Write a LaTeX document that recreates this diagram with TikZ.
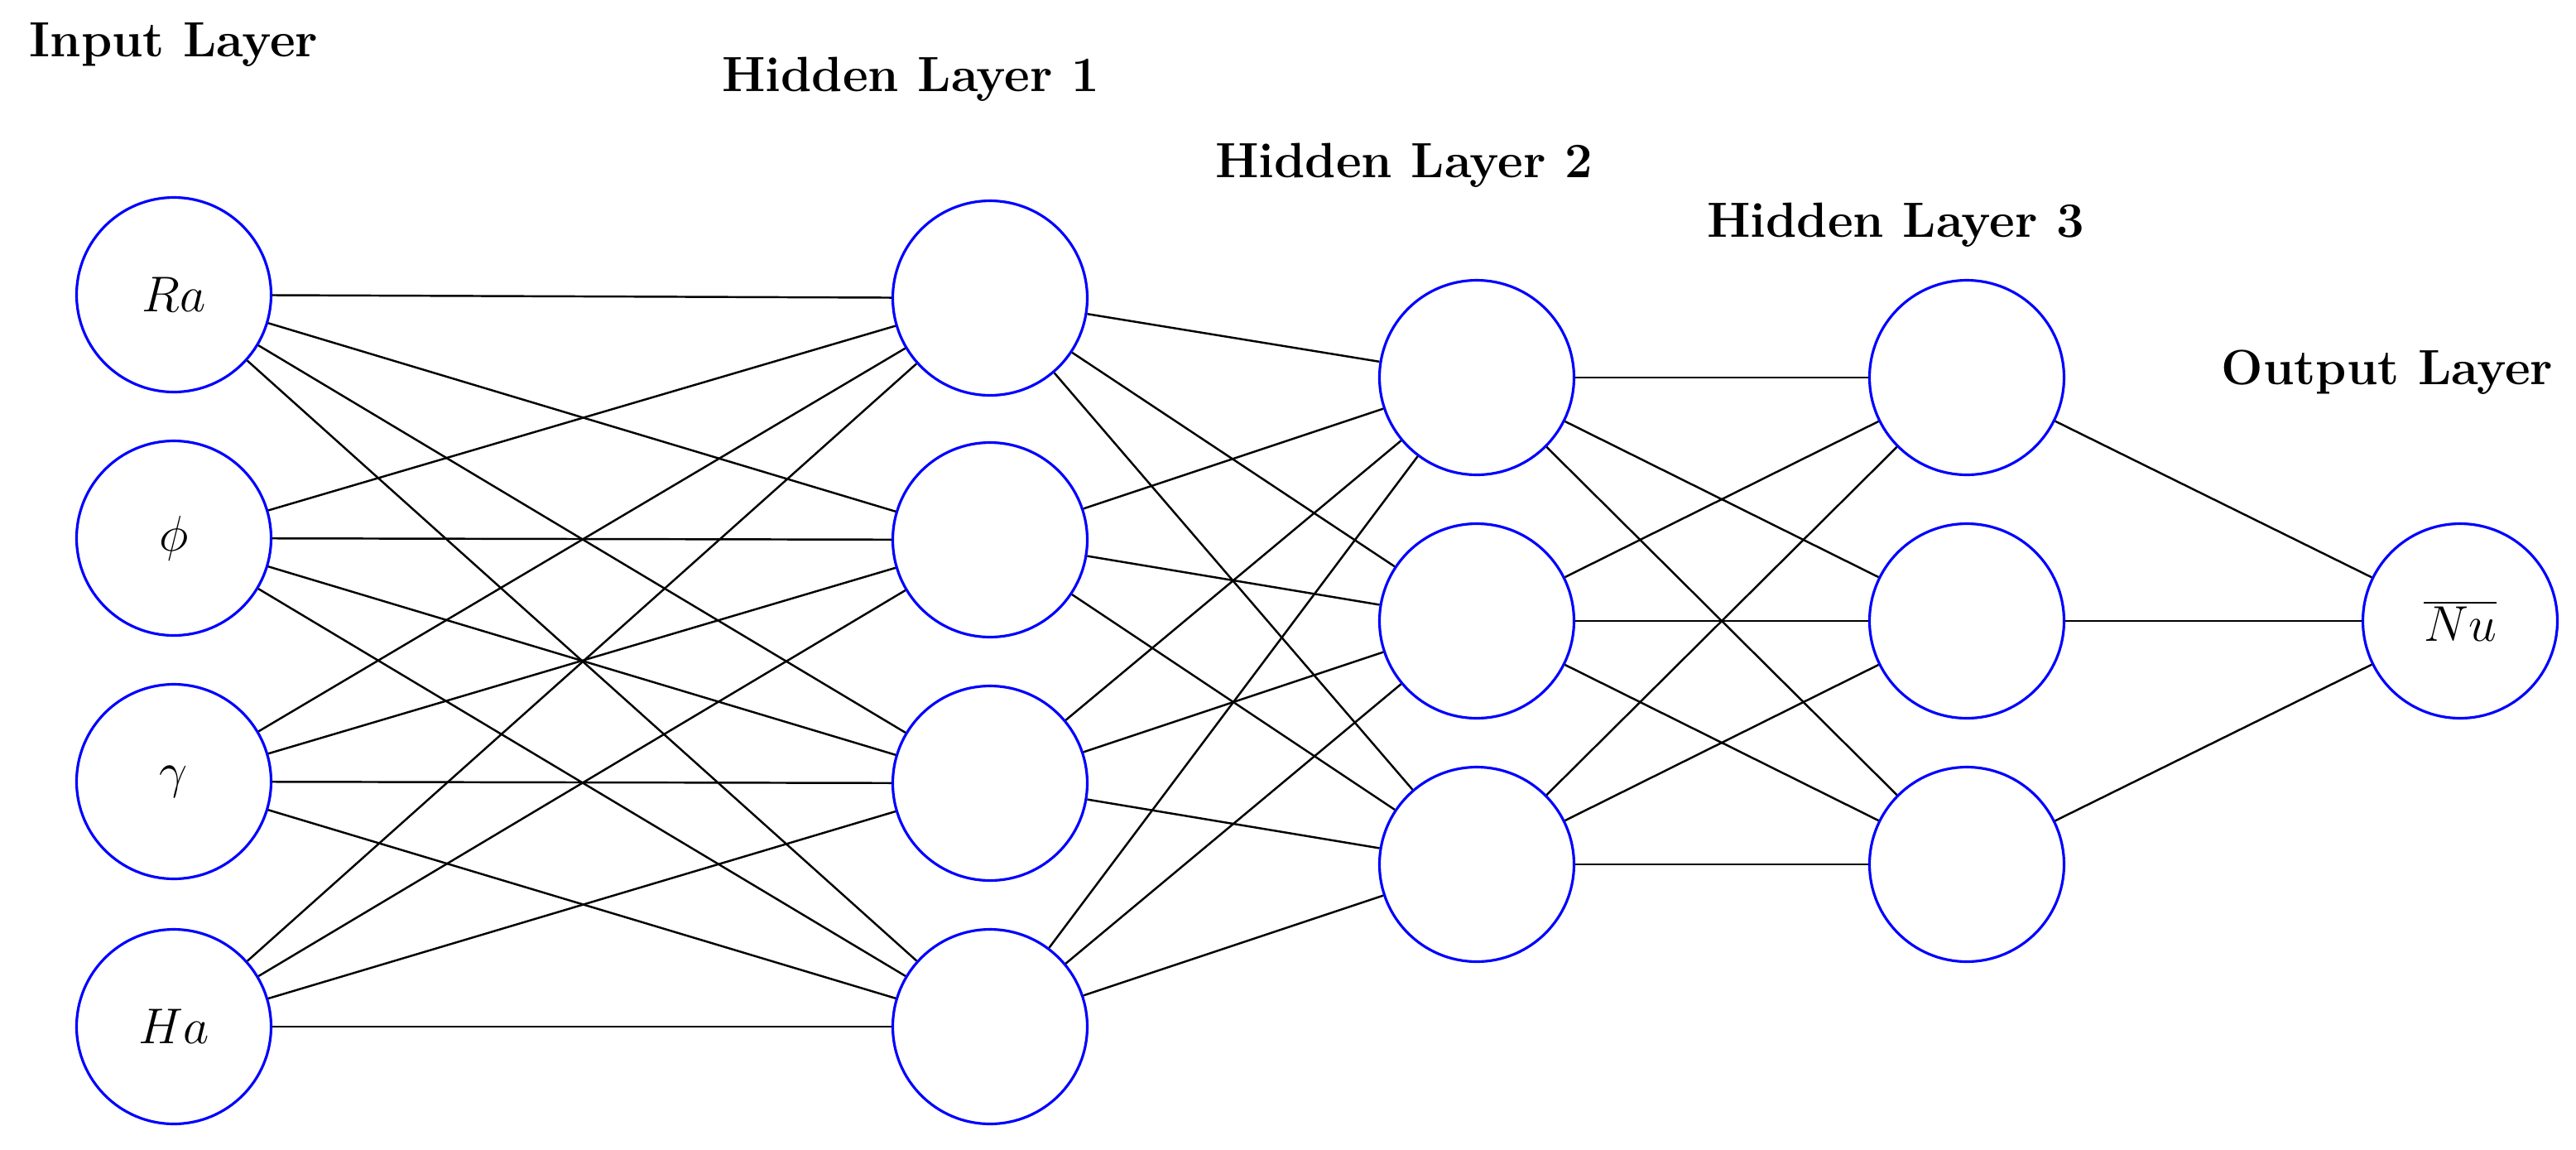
\documentclass[tikz,border=0pt]{standalone}
\begin{document}
\begin{tikzpicture}[x=0.02cm,y=-0.02cm,
  neuron/.style={circle,draw=blue,line width=0.9pt,minimum size=2.35cm,inner sep=0pt,font=\fontsize{17}{20}\selectfont},
  edge/.style={line width=0.7pt},
  lbl/.style={font=\fontsize{17}{20}\selectfont\bfseries}]
\useasboundingbox (0,0) rectangle (1556,694);
\node[neuron] (i1) at (105,178) {$Ra$};
\node[neuron] (i2) at (105,325) {$\phi$};
\node[neuron] (i3) at (105,472) {$\gamma$};
\node[neuron] (i4) at (105,620) {$Ha$};
\foreach \k/\y in {1/180,2/326,3/473,4/620} \node[neuron] (a\k) at (598,\y) {};
\foreach \k/\y in {1/228,2/375,3/522} \node[neuron] (b\k) at (892,\y) {};
\foreach \k/\y in {1/228,2/375,3/522} \node[neuron] (c\k) at (1188,\y) {};
\node[neuron] (o) at (1486,375) {$\overline{Nu}$};
\node[lbl] at (105,27) {Input Layer};
\node[lbl] at (550,48) {Hidden Layer 1};
\node[lbl] at (848,100) {Hidden Layer 2};
\node[lbl] at (1145,136) {Hidden Layer 3};
\node[lbl] at (1442,225) {Output Layer};
\foreach \i in {1,...,4} \foreach \j in {1,...,4} \draw[edge] (i\i) -- (a\j);
\foreach \i in {1,...,4} \foreach \j in {1,...,3} \draw[edge] (a\i) -- (b\j);
\foreach \i in {1,...,3} \foreach \j in {1,...,3} \draw[edge] (b\i) -- (c\j);
\foreach \i in {1,...,3} \draw[edge] (c\i) -- (o);
\end{tikzpicture}
\end{document}
